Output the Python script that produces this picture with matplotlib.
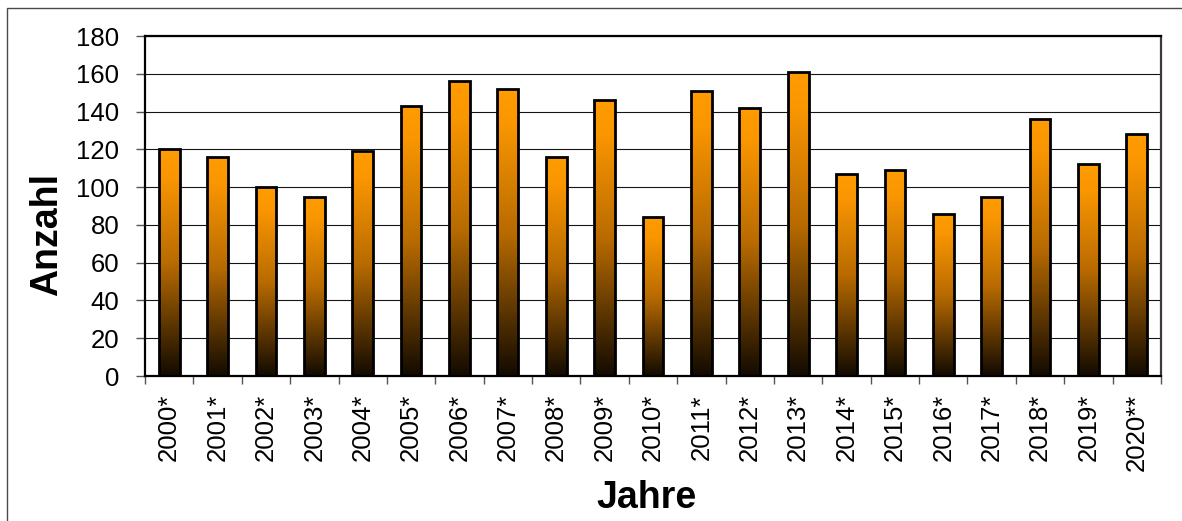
import numpy as np
import matplotlib
matplotlib.use("Agg")
import matplotlib.pyplot as plt
from matplotlib.colors import LinearSegmentedColormap
from matplotlib.patches import Rectangle

# Yearly counts
years = ["2000*", "2001*", "2002*", "2003*", "2004*", "2005*", "2006*", "2007*",
         "2008*", "2009*", "2010*", "2011*", "2012*", "2013*", "2014*", "2015*",
         "2016*", "2017*", "2018*", "2019*", "2020**"]
counts = [120, 116, 100, 95, 119, 143, 156, 152, 116, 146, 84, 151, 142, 161,
          107, 109, 86, 95, 136, 112, 128]
y_ticks = [0, 20, 40, 60, 80, 100, 120, 140, 160, 180]

plt.rcParams["font.family"] = ["Liberation Sans", "DejaVu Sans"]

W, H = 1182, 521
fig = plt.figure(figsize=(W / 100, H / 100), dpi=100)
fig.patch.set_facecolor("white")

# outer frame around the chart area
fig.patches.append(Rectangle((7 / W, -0.2), 1.2, 1 - 8 / H + 0.2,
                             transform=fig.transFigure, fill=False,
                             edgecolor="#4a4a4a", linewidth=1.0))

ax = fig.add_axes([145 / W, 1 - 376 / H, (1161 - 145) / W, (376 - 36) / H])

x = np.arange(len(years))
bars = ax.bar(x, counts, width=0.43, facecolor="none", edgecolor="black",
              linewidth=2.0, zorder=3)

# vertical orange-to-black fill for each bar
grad_cmap = LinearSegmentedColormap.from_list(
    "orange_dark",
    [(0.0, (1.0, 0.612, 0.0)), (0.12, (0.98, 0.59, 0.0)),
     (0.5, (0.725, 0.42, 0.0)), (1.0, (0.07, 0.04, 0.0))])
grad = np.linspace(0, 1, 256).reshape(-1, 1)
for b in bars:
    x0, w, h = b.get_x(), b.get_width(), b.get_height()
    im = ax.imshow(grad, cmap=grad_cmap, aspect="auto", origin="upper",
                   extent=[x0, x0 + w, 0, h], zorder=2, interpolation="bilinear")
    im.set_clip_path(b)

ax.set_xlim(-0.5, len(years) - 0.5)
ax.set_ylim(0, 180)

ax.set_yticks(y_ticks)
ax.set_yticklabels([str(v) for v in y_ticks])
ax.yaxis.grid(True, color="#151515", linewidth=0.8, zorder=1)
ax.set_axisbelow(True)

ax.set_xticks(x)
ax.set_xticklabels(years, rotation=90)
ax.set_xticks(np.arange(len(years) + 1) - 0.5, minor=True)
ax.tick_params(axis="x", which="major", length=0, pad=13, labelsize=18.5)
ax.tick_params(axis="x", which="minor", length=5.5, width=1.0, color="#555555",
               direction="out")
ax.tick_params(axis="y", which="major", length=6.5, width=1.0, color="#555555",
               pad=12, labelsize=18.5, direction="out")

for side in ["left", "top", "bottom"]:
    ax.spines[side].set_linewidth(1.6)
    ax.spines[side].set_color("black")
ax.spines["right"].set_linewidth(1.6)
ax.spines["right"].set_color("#3a3a3a")

fig.text(47 / W, 1 - 235 / H, "Anzahl", rotation=90, ha="center", va="center",
         fontsize=27, fontweight="bold")
fig.text(647 / W, 1 - 508 / H, "Jahre", ha="center", va="baseline",
         fontsize=27, fontweight="bold")

fig.savefig("out.png", dpi=100)
